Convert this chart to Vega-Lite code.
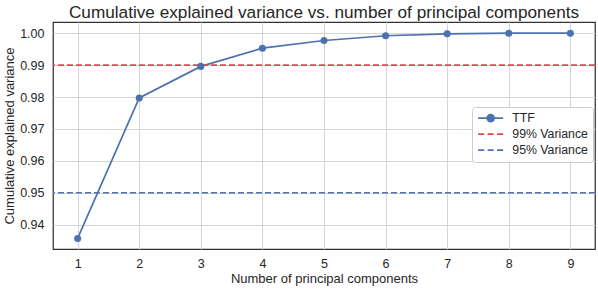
{
  "$schema": "https://vega.github.io/schema/vega-lite/v6.json",
  "width": 542,
  "height": 227,
  "autosize": {"type": "none"},
  "padding": {"left": 53, "top": 22, "right": 3, "bottom": 51},
  "background": "white",
  "title": {
    "text": "Cumulative explained variance vs. number of principal components",
    "font": "Liberation Sans",
    "fontSize": 17.2,
    "fontWeight": "normal",
    "color": "#262626",
    "anchor": "middle",
    "offset": 1
  },
  "config": {
    "view": {"stroke": "#333333", "strokeWidth": 1.25},
    "axis": {
      "domain": false,
      "ticks": false,
      "labelFont": "Liberation Sans",
      "labelFontSize": 12.5,
      "labelColor": "#262626",
      "labelOverlap": false,
      "titleFont": "Liberation Sans",
      "titleFontSize": 13,
      "titleFontWeight": "normal",
      "titleColor": "#262626",
      "gridColor": "#d4d4d4",
      "gridWidth": 1
    }
  },
  "datasets": {
    "pca": [
      {"n": 1, "v": 0.9357, "series": "TTF"},
      {"n": 2, "v": 0.9797, "series": "TTF"},
      {"n": 3, "v": 0.9896, "series": "TTF"},
      {"n": 4, "v": 0.9953, "series": "TTF"},
      {"n": 5, "v": 0.9977, "series": "TTF"},
      {"n": 6, "v": 0.9992, "series": "TTF"},
      {"n": 7, "v": 0.9998, "series": "TTF"},
      {"n": 8, "v": 1.0, "series": "TTF"},
      {"n": 9, "v": 1.0, "series": "TTF"}
    ],
    "thr": [
      {"series": "99% Variance", "v": 0.99},
      {"series": "95% Variance", "v": 0.95}
    ]
  },
  "layer": [
    {
      "data": {"name": "pca"},
      "mark": {"type": "line", "strokeWidth": 1.7},
      "encoding": {
        "x": {
          "field": "n", "type": "quantitative",
          "scale": {"domain": [0.6, 9.4], "nice": false, "zero": false},
          "axis": {"values": [1, 2, 3, 4, 5, 6, 7, 8, 9], "tickCount": 20, "format": "d", "labelPadding": 8, "titlePadding": 3, "labelOverlap": false, "title": "Number of principal components"}
        },
        "y": {
          "field": "v", "type": "quantitative",
          "scale": {"domain": [0.9324, 1.0035], "nice": false, "zero": false},
          "axis": {"values": [0.94, 0.95, 0.96, 0.97, 0.98, 0.99, 1.0], "tickCount": 20, "format": ".2f", "labelPadding": 9, "titlePadding": 3, "labelOverlap": false, "labelBound": false, "title": "Cumulative explained variance"}
        },
        "color": {
          "field": "series", "type": "nominal",
          "scale": {"domain": ["TTF", "99% Variance", "95% Variance"], "range": ["#4C72B0", "#DC4A4E", "#4C72B0"]},
          "legend": {
            "title": null,
            "orient": "none",
            "legendX": 419,
            "legendY": 85,
            "fillColor": "white",
            "strokeColor": "#cccccc",
            "cornerRadius": 3,
            "padding": 5,
            "rowPadding": 3,
            "labelFont": "Liberation Sans",
            "labelFontSize": 12.3,
            "labelColor": "#262626",
            "labelOffset": 23,
            "symbolSize": 100,
            "encode": {
              "symbols": {
                "update": {
                  "shape": {"signal": "datum.value === 'TTF' ? 'M-1,0H4M0.8,0A0.7,0.7 0 1,0 2.2,0A0.7,0.7 0 1,0 0.8,0Z' : 'M-1,0H0.2M0.9,0H2.1M2.8,0H4'"},
                  "stroke": {"scale": "color", "field": "value"},
                  "fill": {"signal": "datum.value === 'TTF' ? '#4C72B0' : 'transparent'"},
                  "strokeWidth": {"value": 1.6},
                  "strokeDash": {"value": []},
                  "opacity": {"value": 1}
                }
              }
            }
          }
        }
      }
    },
    {
      "data": {"name": "thr"},
      "mark": {"type": "rule", "strokeDash": [6, 3], "strokeWidth": 1.6},
      "encoding": {
        "y": {"field": "v", "type": "quantitative"},
        "color": {"field": "series", "type": "nominal"}
      }
    },
    {
      "data": {"name": "pca"},
      "mark": {"type": "point", "filled": true, "size": 50, "opacity": 1},
      "encoding": {
        "x": {"field": "n", "type": "quantitative"},
        "y": {"field": "v", "type": "quantitative"},
        "color": {"field": "series", "type": "nominal"}
      }
    }
  ]
}
